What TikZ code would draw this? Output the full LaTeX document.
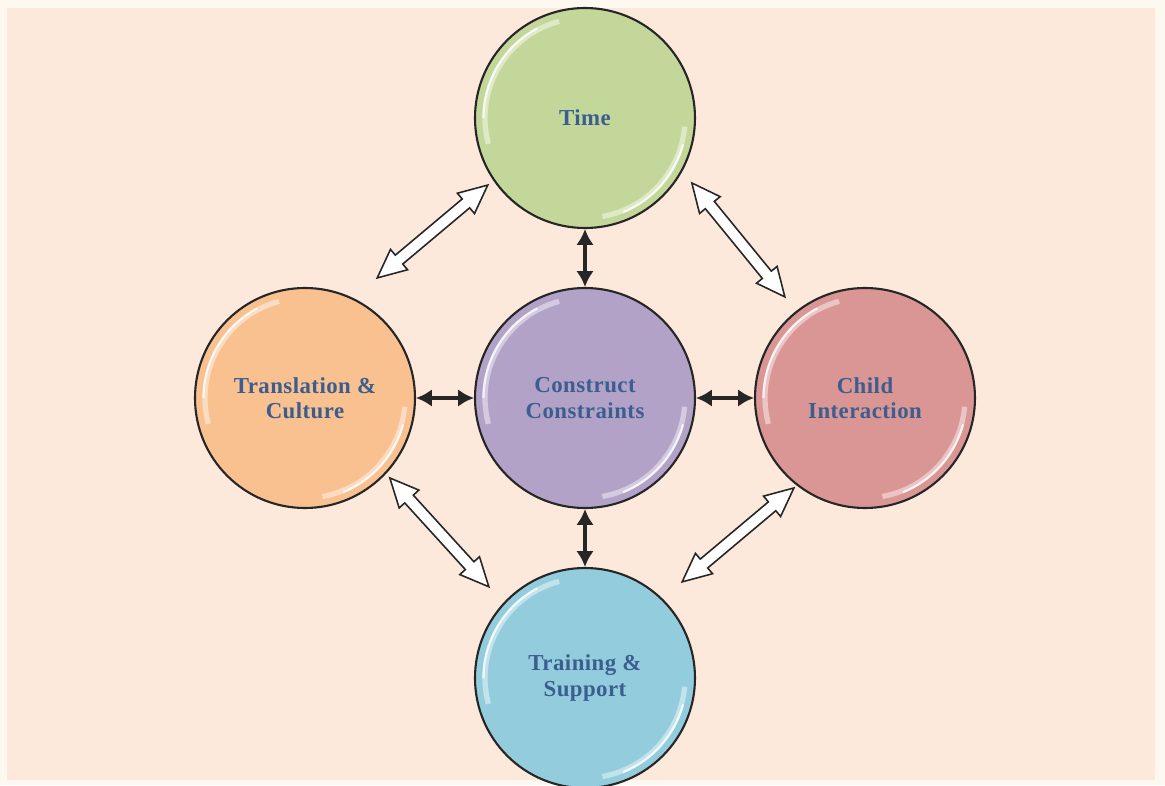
\documentclass[tikz,border=0pt]{standalone}
\usepackage{fontspec}
\setmainfont{Liberation Serif}[LetterSpace=2]
\usepackage{tikz}
\usetikzlibrary{arrows.meta, shapes.arrows, calc}
\usepackage{xcolor}
\definecolor{peach}{RGB}{252,233,219}
\definecolor{cream}{RGB}{254,249,240}
\definecolor{timegreen}{RGB}{196,215,155}
\definecolor{constructpurple}{RGB}{179,162,199}
\definecolor{cultureorange}{RGB}{249,192,144}
\definecolor{childred}{RGB}{217,150,148}
\definecolor{trainingblue}{RGB}{147,205,221}
\definecolor{labelblue}{RGB}{59,94,142}

% hollow two-headed arrow between two named points
\newcommand{\twoway}[2]{%
  \path let \p1=(#1), \p2=(#2), \n1={atan2(\y2-\y1,\x2-\x1)}, \n2={veclen(\x2-\x1,\y2-\y1)} in
    node[hollow, rotate=\n1, minimum height=\n2] at ($(#1)!0.5!(#2)$) {};}

\begin{document}
\begin{tikzpicture}[
    node distance=5.6cm,
    bubble/.style={circle, draw=black!85, line width=1.2pt, minimum size=4.4cm, text=labelblue, align=center,
        font=\fontsize{13}{14.5}\selectfont\bfseries,
        path picture={
            \draw[white, opacity=0.45, line width=3pt] ($(path picture bounding box.center)+(105:2.0)$) arc[start angle=105, end angle=195, radius=2.0];
            \draw[white, opacity=0.8, line width=1.2pt] ($(path picture bounding box.center)+(118:2.03)$) arc[start angle=118, end angle=180, radius=2.03];
            \draw[white, opacity=0.45, line width=3pt] ($(path picture bounding box.center)+(280:2.0)$) arc[start angle=280, end angle=355, radius=2.0];
            \draw[white, opacity=0.8, line width=1.2pt] ($(path picture bounding box.center)+(292:2.03)$) arc[start angle=292, end angle=345, radius=2.03];
        }},
    link/.style={{Latex[length=9pt,width=10pt]}-{Latex[length=9pt,width=10pt]}, line width=2.1pt, black!85},
    hollow/.style={double arrow, draw=black!85, fill=white, line width=0.9pt, inner xsep=0pt, inner ysep=0.1cm,
        double arrow head extend=0.15cm, double arrow tip angle=50}
]
    % Background
    \useasboundingbox[fill=cream] (-11.7,-7.74) rectangle (11.6,7.96);
    \fill[peach] (-11.56,-7.64) rectangle (11.4,7.8);

    % Nodes
    \node[bubble, fill=constructpurple] (cc) {Construct\\Constraints};
    \node[bubble, fill=timegreen, above of=cc] (time) {Time};
    \node[bubble, fill=cultureorange, left of=cc] (culture) {Translation \&\\Culture};
    \node[bubble, fill=childred, right of=cc] (child) {Child\\Interaction};
    \node[bubble, fill=trainingblue, below of=cc] (training) {Training \&\\Support};

    % Arrows
    \draw[link] (time) -- (cc);
    \draw[link] (culture) -- (cc);
    \draw[link] (cc) -- (child);
    \draw[link] (cc) -- (training);

    \coordinate (tc1) at ($(time.center)+(214.6:2.36)$);
    \coordinate (tc2) at ($(culture.center)+(59:2.8)$);
    \coordinate (tk1) at ($(time.center)+(328.7:2.5)$);
    \coordinate (tk2) at ($(child.center)+(128.4:2.58)$);
    \coordinate (ct1) at ($(culture.center)+(316.7:2.33)$);
    \coordinate (ct2) at ($(training.center)+(136.5:2.65)$);
    \coordinate (kt1) at ($(child.center)+(231.7:2.29)$);
    \coordinate (kt2) at ($(training.center)+(44.7:2.73)$);
    \twoway{tc1}{tc2}
    \twoway{tk1}{tk2}
    \twoway{ct1}{ct2}
    \twoway{kt1}{kt2}
\end{tikzpicture}
\end{document}
